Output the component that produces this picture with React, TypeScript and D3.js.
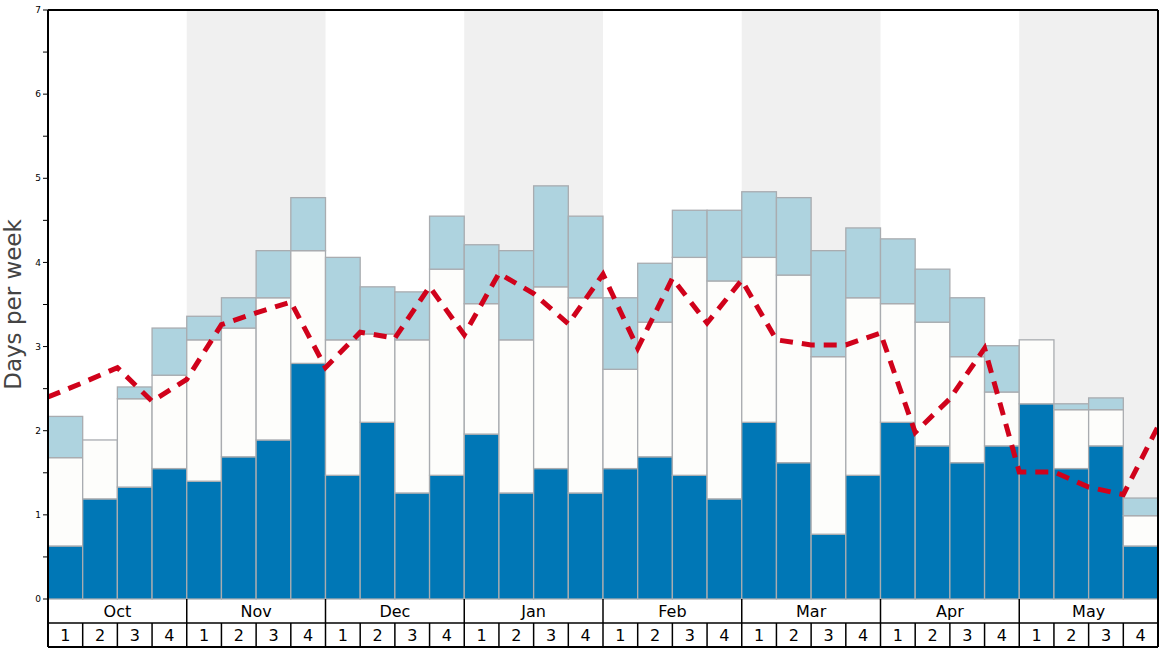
import React from "react";
import * as d3 from "d3";

const months = ["Oct", "Nov", "Dec", "Jan", "Feb", "Mar", "Apr", "May"];
const weeks = ["1", "2", "3", "4"];

// cumulative tops of each stacked layer
const darkTop = [0.63, 1.19, 1.33, 1.55, 1.40, 1.69, 1.89, 2.80, 1.47, 2.10, 1.26, 1.47, 1.96, 1.26, 1.55, 1.26, 1.55, 1.69, 1.47, 1.19, 2.10, 1.62, 0.77, 1.47, 2.10, 1.82, 1.62, 1.82, 2.32, 1.55, 1.82, 0.63];
const whiteTop = [1.68, 1.89, 2.38, 2.66, 3.08, 3.22, 3.58, 4.14, 3.08, 3.15, 3.08, 3.92, 3.51, 3.08, 3.71, 3.58, 2.73, 3.29, 4.06, 3.78, 4.06, 3.85, 2.88, 3.58, 3.51, 3.29, 2.88, 2.46, 3.08, 2.25, 2.25, 0.99];
const lightTop = [2.17, 1.89, 2.52, 3.22, 3.36, 3.58, 4.14, 4.77, 4.06, 3.71, 3.65, 4.55, 4.21, 4.14, 4.91, 4.55, 3.58, 3.99, 4.62, 4.62, 4.84, 4.77, 4.14, 4.41, 4.28, 3.92, 3.58, 3.01, 3.08, 2.32, 2.39, 1.20];
// dashed line values at week boundaries
const lineVals = [2.40, 2.57, 2.75, 2.35, 2.61, 3.26, 3.40, 3.53, 2.75, 3.17, 3.10, 3.71, 3.14, 3.87, 3.63, 3.27, 3.86, 2.98, 3.81, 3.28, 3.79, 3.08, 3.02, 3.02, 3.16, 1.98, 2.38, 2.98, 1.51, 1.51, 1.33, 1.24, 2.05];
const yTicks = [0, 1, 2, 3, 4, 5, 6, 7];
const yMinorTicks = [0.5, 1.5, 2.5, 3.5, 4.5, 5.5, 6.5];

const W = 1168, H = 648;
const L = 48, R = 1158, T = 10, B = 599;
const MONTH_B = 623, WEEK_B = 647;
const FONT = "DejaVu Sans, sans-serif";

export default function App() {
  const slots = months.flatMap((m) => weeks.map((w) => `${m}-${w}`));
  const x = d3.scaleBand<string>().domain(slots).range([L, R]).padding(0);
  const xm = d3.scaleBand<string>().domain(months).range([L, R]).padding(0);
  const xl = d3.scaleLinear().domain([0, slots.length]).range([L, R]);
  const y = d3.scaleLinear().domain([0, 7]).range([B, T]);
  const bw = x.bandwidth();

  const line = d3.line<number>().x((_, i) => xl(i)).y((d) => y(d));

  const layers = slots.map((s, i) => ({
    s,
    segs: [
      { y0: 0, y1: darkTop[i], fill: "#0077b6" },
      { y0: darkTop[i], y1: whiteTop[i], fill: "#fdfdfb" },
      { y0: whiteTop[i], y1: lightTop[i], fill: "#aed3df" },
    ],
  }));

  return (
    <div style={{ position: "absolute", left: 0, top: 0 }}>
      <svg width={W} height={H} style={{ display: "block" }}>
        <rect x={0} y={0} width={W} height={H} fill="#fff" />
        <defs>
          <clipPath id="plotclip">
            <rect x={L} y={T} width={R - L} height={B - T} />
          </clipPath>
        </defs>
        {months.map((m, i) =>
          i % 2 === 1 ? (
            <rect key={m} x={xm(m)} y={T} width={xm.bandwidth()} height={B - T} fill="#f0f0f0" />
          ) : null
        )}
        {layers.map((b) =>
          b.segs.map((sg, k) =>
            sg.y1 - sg.y0 > 0.001 ? (
              <rect
                key={b.s + k}
                x={x(b.s)}
                y={y(sg.y1)}
                width={bw}
                height={y(sg.y0) - y(sg.y1)}
                fill={sg.fill}
                stroke="#a9acb0"
                strokeWidth={1.3}
              />
            ) : null
          )
        )}
        <path
          d={line(lineVals) || ""}
          fill="none"
          stroke="#d0021b"
          strokeWidth={5}
          strokeDasharray="13,9"
          clipPath="url(#plotclip)"
        />
        {/* frame */}
        <line x1={L} x2={R} y1={T} y2={T} stroke="#000" strokeWidth={2} />
        <line x1={R} x2={R} y1={T} y2={WEEK_B} stroke="#000" strokeWidth={2} />
        <line x1={L} x2={L} y1={T} y2={WEEK_B} stroke="#000" strokeWidth={2} />
        {/* y ticks */}
        {yTicks.map((t) => (
          <g key={t}>
            <line x1={L - 5} x2={L} y1={y(t)} y2={y(t)} stroke="#000" strokeWidth={1} />
            <text x={L - 7} y={y(t)} dy="0.35em" textAnchor="end" fontFamily={FONT} fontSize={9} fill="#000">
              {t}
            </text>
          </g>
        ))}
        {yMinorTicks.map((t) => (
          <line key={t} x1={L - 5} x2={L} y1={y(t)} y2={y(t)} stroke="#000" strokeWidth={1} />
        ))}
        <text
          transform={`translate(20.5,${(T + B) / 2}) rotate(-90)`}
          textAnchor="middle"
          fontFamily={FONT}
          fontSize={23}
          fill="#444"
        >
          Days per week
        </text>
        {/* month row */}
        {months.map((m, i) => (
          <g key={m}>
            {i > 0 ? (
              <line x1={xm(m)} x2={xm(m)} y1={B} y2={MONTH_B} stroke="#000" strokeWidth={1.5} />
            ) : null}
            <text
              x={(xm(m) as number) + xm.bandwidth() / 2}
              y={(B + MONTH_B) / 2}
              dy="0.36em"
              textAnchor="middle"
              fontFamily={FONT}
              fontSize={16}
              fill="#000"
            >
              {m}
            </text>
          </g>
        ))}
        <line x1={L} x2={R} y1={MONTH_B} y2={MONTH_B} stroke="#000" strokeWidth={1.5} />
        {slots.map((s, i) => (
          <g key={s}>
            {i > 0 ? (
              <line x1={x(s)} x2={x(s)} y1={MONTH_B} y2={WEEK_B} stroke="#000" strokeWidth={1.5} />
            ) : null}
            <text
              x={(x(s) as number) + bw / 2}
              y={(MONTH_B + WEEK_B) / 2}
              dy="0.38em"
              textAnchor="middle"
              fontFamily={FONT}
              fontSize={16}
              fill="#000"
            >
              {weeks[i % 4]}
            </text>
          </g>
        ))}
        <line x1={L} x2={R} y1={WEEK_B} y2={WEEK_B} stroke="#000" strokeWidth={2} />
      </svg>
    </div>
  );
}
